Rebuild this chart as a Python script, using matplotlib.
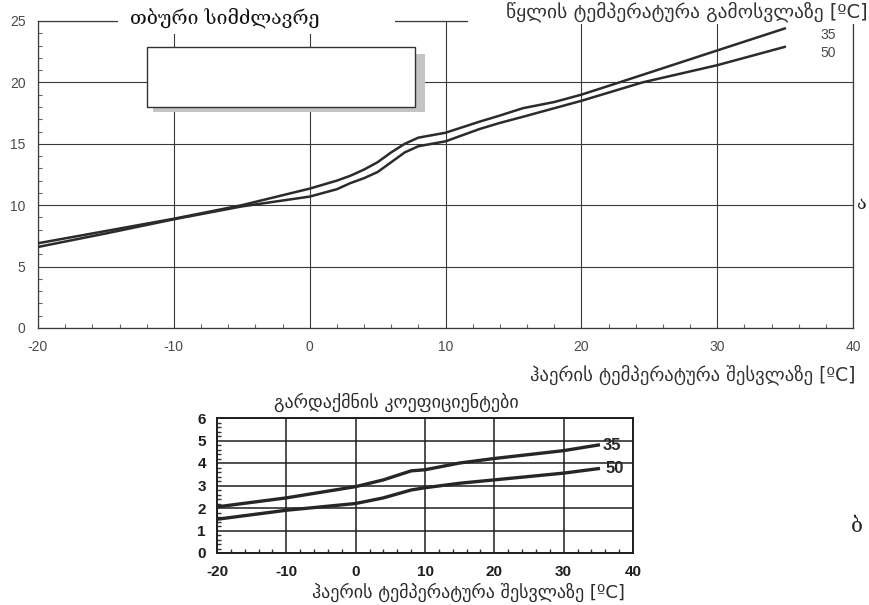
import matplotlib
matplotlib.use("Agg")
import matplotlib.pyplot as plt
from matplotlib.patches import Rectangle
from matplotlib.ticker import MultipleLocator

plt.rcParams["axes.unicode_minus"] = False

W, H = 869, 605

# Thermal power [kW] against inlet air temperature, for outlet water 35 °C and 50 °C
power_t35 = [-20, -15, -10, -5, 0, 2, 3, 4, 5, 6, 7, 8, 9, 10, 12.5, 14, 15.7, 18, 20, 22.8, 30, 35]
power_35 = [6.9, 7.9, 8.9, 10.0, 11.35, 12.0, 12.4, 12.9, 13.5, 14.3, 15.0, 15.5, 15.7, 15.9,
            16.8, 17.3, 17.9, 18.4, 19.0, 20.0, 22.6, 24.4]
power_t50 = [-20, -15, -10, -5, 0, 2, 3, 4, 5, 6, 7, 8, 9, 10, 12.5, 14, 15.7, 20, 24.5, 30, 35]
power_50 = [6.6, 7.7, 8.85, 9.9, 10.7, 11.3, 11.8, 12.2, 12.7, 13.5, 14.3, 14.8, 15.0, 15.2,
            16.2, 16.7, 17.2, 18.5, 20.0, 21.4, 22.9]

# Coefficient of performance against inlet air temperature
cop_t = [-20, -10, 0, 4, 8, 10, 15, 20, 30, 35]
cop_35 = [2.05, 2.45, 2.95, 3.25, 3.65, 3.7, 4.0, 4.2, 4.55, 4.8]
cop_50 = [1.5, 1.9, 2.2, 2.45, 2.8, 2.9, 3.1, 3.25, 3.55, 3.75]

x_ticks = [-20, -10, 0, 10, 20, 30, 40]
power_ticks = [0, 5, 10, 15, 20, 25]
cop_ticks = [0, 1, 2, 3, 4, 5, 6]
series_labels = ["35", "50"]

title_power = "თბური სიმძლავრე"
title_water = "წყლის ტემპერატურა გამოსვლაზე [ºC]"
label_air = "ჰაერის ტემპერატურა შესვლაზე [ºC]"
title_cop = "გარდაქმნის კოეფიციენტები"

fig = plt.figure(figsize=(W / 100, H / 100), dpi=100)
fig.patch.set_facecolor("white")


def rect(l, t, r, b):
    return [l / W, 1 - b / H, (r - l) / W, (b - t) / H]


def fx(px):
    return px / W


def fy(py):
    return 1 - py / H


num_font = ["Liberation Sans", "DejaVu Sans"]
geo_font = ["DejaVu Sans"]

# ---------------- upper chart: thermal power ----------------
ax1 = fig.add_axes(rect(38, 21, 853, 328))
ax1.set_xlim(-20, 40)
ax1.set_ylim(0, 25)
ax1.set_xticks(x_ticks)
ax1.set_yticks(power_ticks)
ax1.xaxis.set_minor_locator(MultipleLocator(2))
ax1.yaxis.set_minor_locator(MultipleLocator(1))
ax1.tick_params(which="major", length=0, pad=9, labelsize=10, labelcolor="#4a4a4a")
ax1.tick_params(which="minor", direction="in", length=3, width=0.8, color="#666666")
for lab in ax1.get_xticklabels() + ax1.get_yticklabels():
    lab.set_family(num_font)
ax1.grid(True, which="major", color="#3a3a3a", linewidth=0.8)
for s in ax1.spines.values():
    s.set_color("#3a3a3a")
    s.set_linewidth(0.9)

ax1.plot(power_t35, power_35, color="#2b2b2b", linewidth=1.8, solid_capstyle="round",
         solid_joinstyle="round", zorder=3)
ax1.plot(power_t50, power_50, color="#2b2b2b", linewidth=1.8, solid_capstyle="round",
         solid_joinstyle="round", zorder=3)
ax1.text(power_t35[-1] + 2.6, power_35[-1] - 0.5, series_labels[0], fontsize=10,
         color="#4a4a4a", family=num_font, va="center", ha="left")
ax1.text(power_t50[-1] + 2.6, power_50[-1] - 0.5, series_labels[1], fontsize=10,
         color="#4a4a4a", family=num_font, va="center", ha="left")

# empty framed box with a soft shadow
ax1.add_patch(Rectangle((fx(153), fy(112)), fx(272) - fx(0), fy(0) - fy(58),
                        transform=fig.transFigure, facecolor="#c4c4c4",
                        edgecolor="none", zorder=5, clip_on=False))
ax1.add_patch(Rectangle((fx(147), fy(107)), fx(268) - fx(0), fy(0) - fy(60),
                        transform=fig.transFigure, facecolor="white",
                        edgecolor="#333333", linewidth=1.0, zorder=6, clip_on=False))

# headings of the upper chart, each on a white strip over the frame
fig.add_artist(Rectangle((fx(118), fy(34)), fx(277) - fx(0), fy(0) - fy(34),
                         transform=fig.transFigure, facecolor="white", edgecolor="none"))
fig.add_artist(Rectangle((fx(468), fy(24)), fx(401) - fx(0), fy(0) - fy(24),
                         transform=fig.transFigure, facecolor="white", edgecolor="none"))
fig.text(fx(130), fy(18), title_power, fontsize=14, family=["DejaVu Serif"],
         color="#111111", ha="left", va="center")
fig.text(fx(868), fy(12), title_water, fontsize=14, family=geo_font,
         color="#333333", ha="right", va="center")
fig.text(fx(855), fy(375), label_air, fontsize=13.5, family=geo_font,
         color="#333333", ha="right", va="center")
fig.text(fx(857), fy(204), "ა", fontsize=13, family=["DejaVu Serif"],
         color="#222222", ha="left", va="center")

# ---------------- lower chart: coefficient of performance ----------------
ax2 = fig.add_axes(rect(217, 418, 633, 553))
ax2.set_xlim(-20, 40)
ax2.set_ylim(0, 6)
ax2.set_xticks(x_ticks)
ax2.set_yticks(cop_ticks)
ax2.xaxis.set_minor_locator(MultipleLocator(2))
ax2.yaxis.set_minor_locator(MultipleLocator(0.2))
ax2.tick_params(which="major", length=0, labelsize=11, labelcolor="#1e1e1e")
ax2.tick_params(axis="x", which="major", pad=9)
ax2.tick_params(axis="y", which="major", pad=8)
ax2.tick_params(which="minor", direction="in", length=3, width=1.0, color="#333333")
for lab in ax2.get_xticklabels() + ax2.get_yticklabels():
    lab.set_family(num_font)
    lab.set_fontweight("bold")
ax2.grid(True, which="major", color="#1e1e1e", linewidth=1.1)
for s in ax2.spines.values():
    s.set_color("#1e1e1e")
    s.set_linewidth(1.4)

ax2.plot(cop_t, cop_35, color="#262626", linewidth=2.4, solid_joinstyle="round", zorder=3)
ax2.plot(cop_t, cop_50, color="#262626", linewidth=2.4, solid_joinstyle="round", zorder=3)
ax2.text(cop_t[-1] + 0.6, cop_35[-1], series_labels[0], fontsize=12, fontweight="bold",
         color="#262626", family=num_font, va="center", ha="left")
ax2.text(cop_t[-1] + 1.0, cop_50[-1], series_labels[1], fontsize=12, fontweight="bold",
         color="#262626", family=num_font, va="center", ha="left")

fig.text(fx(396), fy(402), title_cop, fontsize=13, family=geo_font,
         color="#2a2a2a", ha="center", va="center")
fig.text(fx(625), fy(592), label_air, fontsize=13, family=geo_font,
         color="#2a2a2a", ha="right", va="center")
fig.text(fx(857), fy(527), "ბ", fontsize=15, family=["DejaVu Serif"],
         color="#222222", ha="center", va="center")

fig.savefig("out.png", dpi=100, facecolor="white")
